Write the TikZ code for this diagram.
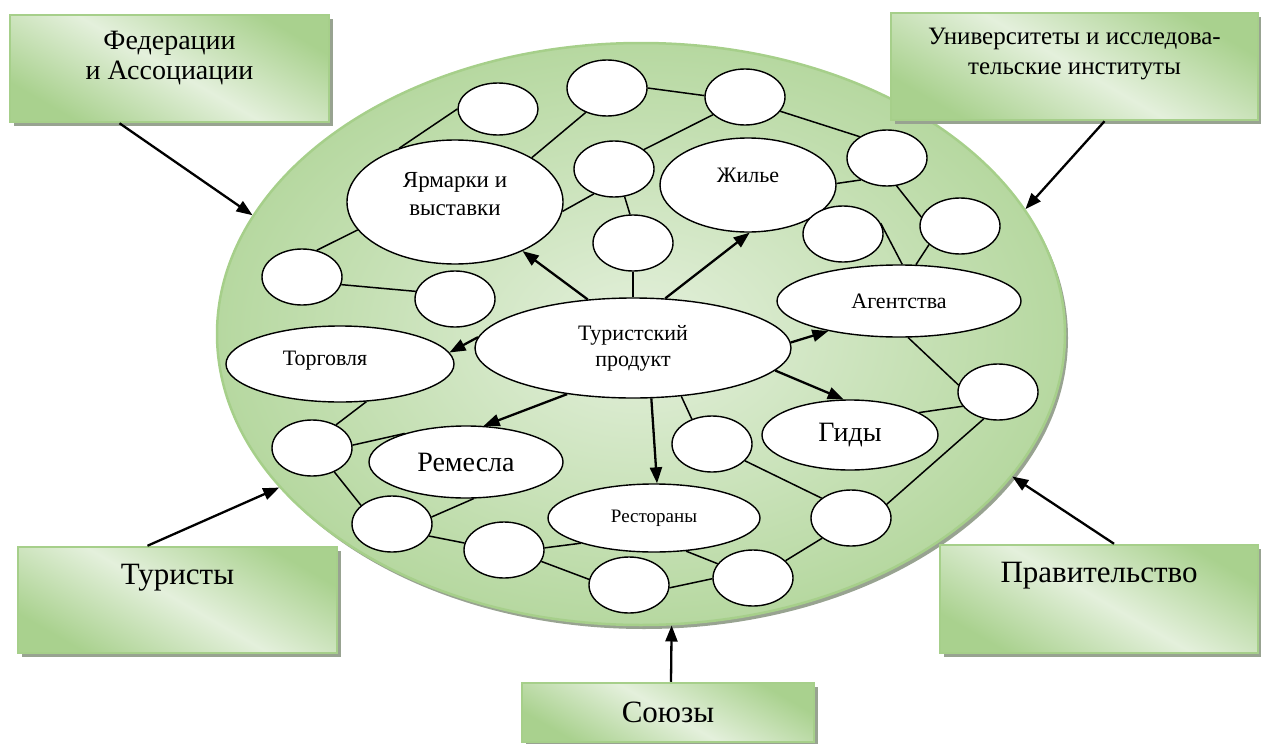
\documentclass[tikz,border=0pt]{standalone}
\usepackage{fontspec}
\setmainfont{Liberation Serif}
\usetikzlibrary{shapes.geometric,arrows.meta,positioning,shadows}
\definecolor{GreenDark}{HTML}{A9D18E}
\definecolor{GreenRim}{HTML}{B6D8A0}
\definecolor{GreenLight}{HTML}{E4F0DC}
\definecolor{GreenLine}{HTML}{A6CF8A}
\definecolor{ShadowGray}{HTML}{98A391}
\tikzset{
    cluster/.style={ellipse, draw=GreenLine, line width=2.5pt, inner color=GreenLight, outer color=GreenRim,
        minimum width=848pt, minimum height=582pt, inner sep=0pt,
        drop shadow={shadow xshift=3pt, shadow yshift=-4pt, fill=ShadowGray, opacity=1}},
    sidebox/.style={rectangle, draw=GreenLine, line width=2.5pt, top color=GreenDark, bottom color=GreenDark,
        middle color=GreenLight, shading angle=-30, inner sep=0pt,
        drop shadow={shadow xshift=4pt, shadow yshift=-4pt, fill=ShadowGray, opacity=1}},
    boxtext/.style={inner sep=0pt, align=center, font=\fontsize{25}{30}\selectfont},
    field/.style={ellipse, draw, fill=white, line width=1.4pt, inner sep=0pt, align=center,
        font=\fontsize{22}{26}\selectfont},
    fieldtext/.style={inner sep=0pt, align=center, font=\fontsize{22}{26}\selectfont},
    blank/.style={ellipse, draw, fill=white, line width=1.4pt, inner sep=0pt,
        minimum width=80pt, minimum height=56pt},
    link/.style={line width=1.5pt},
    push/.style={line width=2.3pt, -{Triangle[length=16pt,width=12pt]}},
}
\newcommand\BigText{\fontsize{31}{36}\selectfont}
\newcommand\MidText{\fontsize{28}{30}\selectfont}
\newcommand\SideBox[7]{%
    \node[sidebox, minimum width=#4pt, minimum height=#5pt] (#1) at (#2,#3) {};
    \node[boxtext, below=#6pt of #1.north] (#1Text) {#7};
}

\begin{document}
\begin{tikzpicture}[x=1pt,y=-1pt]
    \useasboundingbox (0,0) rectangle (1261,744);
    \node[cluster] (Cluster) at (641,334) {};
    \SideBox{Federations}{169.5}{68.5}{319}{107}{17}{\MidText Федерации\\\MidText и Ассоциации}
    \SideBox{Universities}{1074.5}{66.5}{367}{107}{16}{Университеты и исследова-\\тельские институты}
    \SideBox{Tourists}{177.5}{600}{319}{106}{18}{\BigText Туристы}
    \SideBox{Government}{1099}{599}{318}{108}{18}{\BigText Правительство}
    \SideBox{Unions}{668}{712.5}{292}{59}{20}{\BigText Союзы}

    % labelled fields
    \node[field, minimum width=216pt, minimum height=124pt] (Fairs) at (455,202) {};
    \node[fieldtext, font=\fontsize{23}{28}\selectfont] (FairsText) at ([yshift=8pt]Fairs.center) {Ярмарки и\\выставки};
    \node[field, minimum width=176pt, minimum height=94pt] (Housing) at (748,185) {};
    \node[fieldtext] (HousingText) at ([yshift=10pt]Housing.center) {Жилье};
    \node[field, minimum width=316pt, minimum height=100pt] (Product) at (633,348) {Туристский\\продукт};
    \node[field, minimum width=228pt, minimum height=76pt] (Trade) at (340,364) {};
    \node[fieldtext] (TradeText) at ([xshift=-15pt,yshift=3pt]Trade.center) {Торговля};
    \node[field, minimum width=244pt, minimum height=72pt] (Agencies) at (899,301) {Агентства};
    \node[field, minimum width=176pt, minimum height=70pt, font=\fontsize{28}{32}\selectfont] (Guides) at (850,435) {Гиды};
    \node[field, minimum width=194pt, minimum height=72pt, font=\fontsize{28}{32}\selectfont] (Crafts) at (466,462) {Ремесла};
    \node[field, minimum width=212pt, minimum height=68pt, font=\fontsize{19}{22}\selectfont] (Restaurants) at (654,518) {Рестораны};

    % empty fields
    \node[blank, minimum height=52pt] (s1) at (498,109) {};
    \node[blank] (s2) at (607,88) {};
    \node[blank] (s3) at (745,97) {};
    \node[blank] (s4) at (614,169) {};
    \node[blank] (s5) at (633,243) {};
    \node[blank] (s6) at (302,277) {};
    \node[blank] (s7) at (455,299) {};
    \node[blank] (s8) at (887,158) {};
    \node[blank] (s9) at (960,226) {};
    \node[blank] (s10) at (843,234) {};
    \node[blank] (s11) at (998,392) {};
    \node[blank] (s12) at (851,518) {};
    \node[blank] (s13) at (712,444) {};
    \node[blank] (s14) at (753,578) {};
    \node[blank] (s15) at (629,585) {};
    \node[blank] (s16) at (312,448) {};
    \node[blank] (s17) at (392,524) {};
    \node[blank] (s18) at (504,550) {};

    % links
    \draw[link] (Fairs.136) -- (s1.180);
    \draw[link] (Fairs.30) -- (s2.229);
    \draw[link] (s2.0) -- (s3.178);
    \draw[link] (s3.209) -- (s4.33);
    \draw[link] (s4.231) -- (Fairs.355);
    \draw[link] (s4.291) -- (s5.96);
    \draw[link] (s5.270) -- (Product.90);
    \draw[link] (s3.338) -- (s8.142);
    \draw[link] (Housing.1) -- (s8.220);
    \draw[link] (s8.289) -- (s9.167);
    \draw[link] (s10.16) -- (Agencies.85);
    \draw[link] (s9.211) -- (Agencies.65);
    \draw[link] (Agencies.284) -- (s11.170);
    \draw[link] (Guides.18) -- (s11.202);
    \draw[link] (s11.242) -- (s12.21);
    \draw[link] (s13.333) -- (s12.146);
    \draw[link] (Product.315) -- (s13.129);
    \draw[link] (s12.215) -- (s14.28);
    \draw[link] (Restaurants.314) -- (s14.158);
    \draw[link] (s15.356) -- (s14.181);
    \draw[link] (s18.343) -- (s15.172);
    \draw[link] (s18.3) -- (Restaurants.199);
    \draw[link] (s17.342) -- (s18.170);
    \draw[link] (Crafts.282) -- (s17.10);
    \draw[link] (s16.313) -- (s17.149);
    \draw[link] (s16.4) -- (Crafts.155);
    \draw[link] (Trade.305) -- (s16.44);
    \draw[link] (Fairs.196) -- (s6.61);
    \draw[link] (s6.349) -- (s7.169);

    % product arrows
    \draw[push] (Product.133) -- (Fairs.324);
    \draw[push] (Product.57) -- (Housing.272);
    \draw[push] (Product.176) -- (Trade.6);
    \draw[push] (Product.2) -- (Agencies.203);
    \draw[push] (Product.351) -- (Guides.100);
    \draw[push] (Product.290) -- (Restaurants.85);
    \draw[push] (Product.215) -- (Crafts.64);

    % outside actors
    \draw[push] ([xshift=-50pt]Federations.south) -- (Cluster.163);
    \draw[push] ([xshift=30pt]Universities.south) -- (Cluster.18);
    \draw[push] ([xshift=-30pt]Tourists.north) -- (Cluster.203);
    \draw[push] ([xshift=15pt]Government.north) -- (Cluster.339);
    \draw[push] ([xshift=3pt]Unions.north) -- (Cluster.276);
\end{tikzpicture}
\end{document}
